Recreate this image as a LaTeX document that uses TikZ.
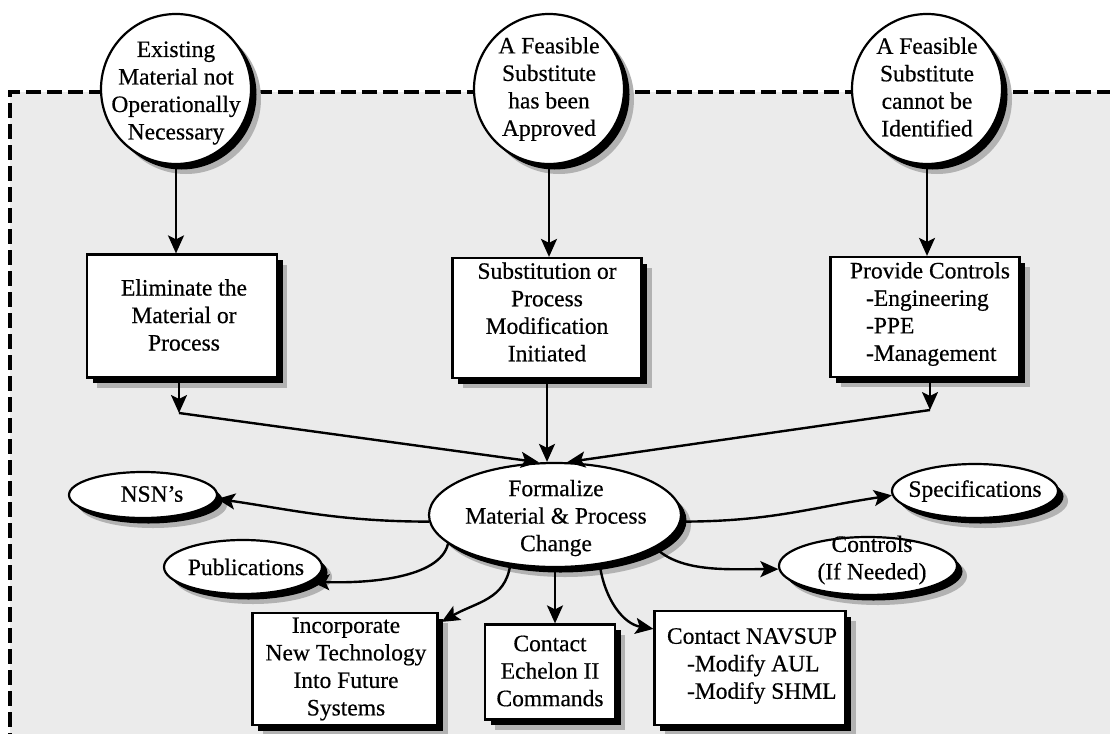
\documentclass[tikz,border=0pt]{standalone}
\usepackage{fontspec}
\setmainfont{Liberation Serif}[FakeBold=0.5]
\usetikzlibrary{shapes.geometric,shadows,arrows.meta,calc}
\begin{document}
\begin{tikzpicture}[x=1pt,y=-1pt,
  every node/.style={font=\fontsize{23.5}{27.5}\selectfont},
  shp/.style={draw=black, line width=2.2pt, fill=white,
    drop shadow={fill=black!30, opacity=1, shadow xshift=10pt, shadow yshift=-10pt},
    drop shadow={fill=black, opacity=1, shadow xshift=5.5pt, shadow yshift=-5.5pt}},
  circ/.style={shp, circle, minimum size=150pt, inner sep=0pt},
  boxs/.style={shp, rectangle, inner sep=0pt},
  ell/.style={shp, ellipse, inner sep=0pt},
  txt/.style={align=center, inner sep=0pt},
  ltxt/.style={align=left, inner sep=0pt},
  arr/.style={line width=2.4pt, -{Stealth[length=18pt,width=16pt,inset=4pt]}},
  frame/.style={line width=3.2pt, dash pattern=on 15pt off 6pt}
]
\useasboundingbox (0,0) rectangle (1110,733);
\fill[white] (0,0) rectangle (1110,733);
% background region inside the dashed frame
\fill[black!8] (10,92) rectangle (1112,735);
\draw[frame] (1112,92) -- (10,92) -- (10,735);

% top circles
\node[circ] (c1) at (176,89) {};
\node[circ] (c2) at (549,89) {};
\node[circ] (c3) at (927,89) {};

% boxes
\node[boxs, minimum width=190pt, minimum height=123pt] (b1) at (182,316) {};
\node[boxs, minimum width=189pt, minimum height=120pt] (b2) at (547,318) {};
\node[boxs, minimum width=189pt, minimum height=120pt] (b3) at (925,317) {};

% central ellipse and satellites
\node[ell, minimum width=252pt, minimum height=104pt] (form) at (555,515) {};
\node[ell, minimum width=148pt, minimum height=46pt] (nsn) at (143,495) {};
\node[ell, minimum width=158pt, minimum height=54pt] (pub) at (243,567) {};
\node[ell, minimum width=166pt, minimum height=54pt] (spec) at (975,491) {};
\node[ell, minimum width=178pt, minimum height=58pt] (ctl) at (868,566) {};

% bottom boxes
\node[boxs, minimum width=185pt, minimum height=112pt] (inc) at (345,669) {};
\node[boxs, minimum width=130pt, minimum height=95pt] (ech) at (550,672) {};
\node[boxs, minimum width=191pt, minimum height=114pt] (nav) at (750,668) {};

% junction points
\coordinate (j1) at (179,413);
\coordinate (j3) at (930,410);

% connectors
\draw[arr] (c1.south) -- (c1.south |- b1.north);
\draw[arr] (c2.south) -- (c2.south |- b2.north);
\draw[arr] (c3.south) -- (c3.south |- b3.north);

\draw[arr] (b1.south -| j1) -- (j1);
\draw[arr] (j1) -- (form.107);
\draw[arr] (b2.south) -- (b2.south |- form.north);
\draw[arr] (b3.south -| j3) -- (j3);
\draw[arr] (j3) -- (form.77);

\draw[arr] (form.183) .. controls +(-90,0) and +(70,10) .. (nsn.-3);
\draw[arr] (form.195) .. controls +(-8,35) and +(55,2) .. (pub.-12);
\draw[arr] (form.228) .. controls +(-5,35) and +(35,-20) .. ([xshift=3pt,yshift=-10pt]inc.north east);
\draw[arr] (form.south) -- (form.south |- ech.north);
\draw[arr] (form.-48) .. controls +(5,35) and +(-30,-5) .. ([yshift=-19pt]nav.north west);
\draw[arr] (form.-3) .. controls +(90,0) and +(-80,12) .. (spec.183);
\draw[arr] (form.-18) .. controls +(25,25) and +(-50,0) .. (ctl.182);

% texts
\node[txt] (c1t) at (176,93) {Existing\\Material not\\Operationally\\Necessary};
\node[txt] (c2t) at (549,89) {A Feasible\\Substitute\\has been\\Approved};
\node[txt] (c3t) at (927,87) {A Feasible\\Substitute\\cannot be\\Identified};

\node[txt] (b1t) at (184,315) {Eliminate the\\Material or\\Process};
\node[txt] (b2t) at (547,312) {Substitution or\\Process\\Modification\\Initiated};
\node[ltxt] (b3t) at (930,314) {Provide Controls\\\hspace*{16pt}-Engineering\\\hspace*{16pt}-PPE\\\hspace*{16pt}-Management};

\node[txt] (formt) at (556,518) {Formalize\\Material \& Process\\Change};
\node[txt] (nsnt) at (152,494) {NSN’s};
\node[txt] (pubt) at (246,567) {Publications};
\node[txt] (spect) at (975,491) {Specifications};
\node[txt] (ctlt) at (872,560) {Controls\\(If Needed)};

\node[txt] (inct) at (346,669) {Incorporate\\New Technology\\Into Future\\Systems};
\node[txt] (echt) at (550,671) {Contact\\Echelon II\\Commands};
\node[ltxt] (navt) at (752,666) {Contact NAVSUP\\\hspace*{20pt}-Modify AUL\\\hspace*{20pt}-Modify SHML};
\end{tikzpicture}
\end{document}
